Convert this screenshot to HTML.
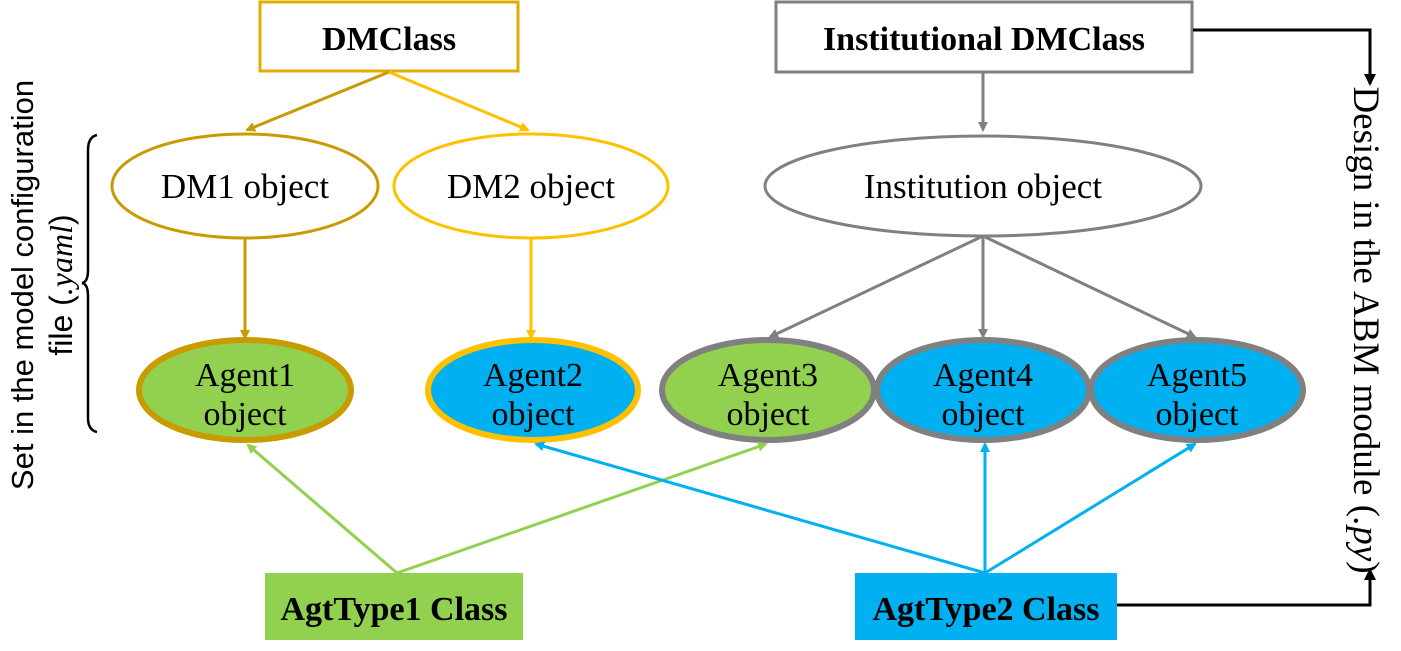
<!DOCTYPE html>
<html><head><meta charset="utf-8"><style>
html,body{margin:0;padding:0;background:#fff;}
svg{display:block;}
.s{font-family:"Liberation Serif",serif;}
</style></head><body>
<svg width="1401" height="651" viewBox="0 0 1401 651" xmlns="http://www.w3.org/2000/svg">
<defs>
<marker id="ag" markerWidth="10" markerHeight="10" refX="8" refY="5" orient="auto" markerUnits="userSpaceOnUse"><path d="M0,0 L10,5 L0,10 z" fill="#C89B00"/></marker>
<marker id="ay" markerWidth="10" markerHeight="10" refX="8" refY="5" orient="auto" markerUnits="userSpaceOnUse"><path d="M0,0 L10,5 L0,10 z" fill="#FFC000"/></marker>
<marker id="agr" markerWidth="10" markerHeight="10" refX="8" refY="5" orient="auto" markerUnits="userSpaceOnUse"><path d="M0,0 L10,5 L0,10 z" fill="#808080"/></marker>
<marker id="agn" markerWidth="10" markerHeight="10" refX="8" refY="5" orient="auto" markerUnits="userSpaceOnUse"><path d="M0,0 L10,5 L0,10 z" fill="#92D050"/></marker>
<marker id="ab" markerWidth="10" markerHeight="10" refX="8" refY="5" orient="auto" markerUnits="userSpaceOnUse"><path d="M0,0 L10,5 L0,10 z" fill="#00B0F0"/></marker>
<marker id="ak" markerWidth="12" markerHeight="12" refX="10" refY="6" orient="auto" markerUnits="userSpaceOnUse"><path d="M0,0 L12,6 L0,12 z" fill="#000"/></marker>
</defs>
<rect x="260" y="2" width="258" height="69" fill="#fff" stroke="#E0AC00" stroke-width="3"/>
<text x="389" y="50" text-anchor="middle" class="s" font-size="34" font-weight="bold">DMClass</text>
<rect x="776" y="2" width="416" height="70" fill="#fff" stroke="#808080" stroke-width="3"/>
<text x="984" y="50" text-anchor="middle" class="s" font-size="34" font-weight="bold">Institutional DMClass</text>
<line x1="389" y1="72" x2="247" y2="130" stroke="#C89B00" stroke-width="3" marker-end="url(#ag)"/>
<line x1="389" y1="72" x2="528" y2="130" stroke="#FFC000" stroke-width="3" marker-end="url(#ay)"/>
<line x1="983" y1="73" x2="983" y2="130" stroke="#808080" stroke-width="3" marker-end="url(#agr)"/>
<ellipse cx="245" cy="186" rx="133" ry="52" fill="#fff" stroke="#C89B00" stroke-width="3"/>
<text x="245" y="198" text-anchor="middle" class="s" font-size="35">DM1 object</text>
<ellipse cx="531" cy="186" rx="137" ry="52" fill="#fff" stroke="#FFC000" stroke-width="3"/>
<text x="531" y="198" text-anchor="middle" class="s" font-size="35">DM2 object</text>
<ellipse cx="983" cy="186" rx="218" ry="50" fill="#fff" stroke="#808080" stroke-width="3"/>
<text x="983" y="198" text-anchor="middle" class="s" font-size="35">Institution object</text>
<line x1="245" y1="238" x2="245" y2="338" stroke="#C89B00" stroke-width="3" marker-end="url(#ag)"/>
<line x1="531" y1="238" x2="531" y2="338" stroke="#FFC000" stroke-width="3" marker-end="url(#ay)"/>
<line x1="983" y1="236" x2="770" y2="337" stroke="#808080" stroke-width="3" marker-end="url(#agr)"/>
<line x1="983" y1="236" x2="983" y2="337" stroke="#808080" stroke-width="3" marker-end="url(#agr)"/>
<line x1="983" y1="236" x2="1195" y2="337" stroke="#808080" stroke-width="3" marker-end="url(#agr)"/>
<ellipse cx="245" cy="390" rx="106" ry="50" fill="#92D050" stroke="#C89B00" stroke-width="6"/>
<ellipse cx="533" cy="390" rx="105" ry="50" fill="#00B0F0" stroke="#FFC000" stroke-width="6"/>
<ellipse cx="768" cy="390" rx="106" ry="50" fill="#92D050" stroke="#808080" stroke-width="6"/>
<ellipse cx="983" cy="390" rx="106" ry="50" fill="#00B0F0" stroke="#808080" stroke-width="6"/>
<ellipse cx="1197" cy="390" rx="106" ry="50" fill="#00B0F0" stroke="#808080" stroke-width="6"/>
<g class="s" font-size="34" text-anchor="middle">
<text x="245" y="386">Agent1</text><text x="245" y="425">object</text>
<text x="533" y="386">Agent2</text><text x="533" y="425">object</text>
<text x="768" y="386">Agent3</text><text x="768" y="425">object</text>
<text x="983" y="386">Agent4</text><text x="983" y="425">object</text>
<text x="1197" y="386">Agent5</text><text x="1197" y="425">object</text>
</g>
<line x1="397" y1="573" x2="248" y2="445" stroke="#92D050" stroke-width="3" marker-end="url(#agn)"/>
<line x1="397" y1="573" x2="766" y2="444" stroke="#92D050" stroke-width="3" marker-end="url(#agn)"/>
<line x1="985" y1="573" x2="536" y2="444" stroke="#00B0F0" stroke-width="3" marker-end="url(#ab)"/>
<line x1="985" y1="573" x2="985" y2="444" stroke="#00B0F0" stroke-width="3" marker-end="url(#ab)"/>
<line x1="985" y1="573" x2="1195" y2="444" stroke="#00B0F0" stroke-width="3" marker-end="url(#ab)"/>
<rect x="265" y="573" width="258" height="67" fill="#92D050"/>
<text x="394" y="620" text-anchor="middle" class="s" font-size="34" font-weight="bold">AgtType1 Class</text>
<rect x="855" y="573" width="262" height="67" fill="#00B0F0"/>
<text x="986" y="620" text-anchor="middle" class="s" font-size="34" font-weight="bold">AgtType2 Class</text>
<polyline points="1193,30 1370,30 1370,84" fill="none" stroke="#000" stroke-width="3" marker-end="url(#ak)"/>
<polyline points="1117,605 1370,605 1370,570" fill="none" stroke="#000" stroke-width="3" marker-end="url(#ak)"/>
<text transform="translate(1354,330) rotate(90)" text-anchor="middle" class="s" font-size="37">Design in the ABM module (<tspan font-style="italic">.py</tspan>)</text>
<path d="M97,135 Q88,137 88,150 L88,270 Q88,282 82,283 Q88,284 88,296 L88,418 Q88,430 97,432" fill="none" stroke="#000" stroke-width="2.5"/>
<text transform="translate(33,285) rotate(-90)" text-anchor="middle" font-family="Liberation Sans, sans-serif" font-size="31">Set in the model configuration</text>
<text transform="translate(72,285) rotate(-90)" text-anchor="middle" font-family="Liberation Sans, sans-serif" font-size="32">file (<tspan font-family="Liberation Serif, serif" font-style="italic">.yaml</tspan>)</text>
</svg>
</body></html>
